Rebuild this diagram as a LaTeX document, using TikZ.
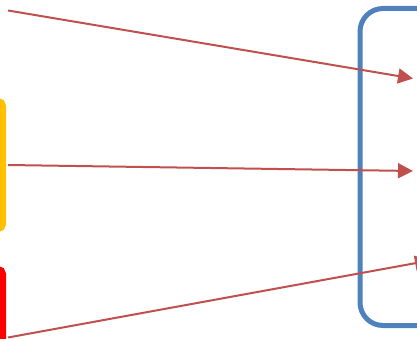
\documentclass[tikz,border=0pt]{standalone}
\usetikzlibrary{arrows.meta}
\definecolor{frameblue}{HTML}{4F81BD}
\definecolor{arrowred}{HTML}{C0504D}
\definecolor{boxyellow}{HTML}{FFC000}
\definecolor{boxred}{HTML}{FF0000}
\tikzset{
  framebox/.style={draw=frameblue, line width=5pt, rounded corners=23pt},
  sidebox/.style={line width=6pt, rounded corners=5pt},
  link/.style={draw=arrowred, line width=2pt, -{Triangle[length=15pt,width=15pt]}}
}
\begin{document}
\begin{tikzpicture}[x=1pt,y=-1pt]
\useasboundingbox (0,0) rectangle (417,339);
\clip (0,0) rectangle (417,339);
% blue frame (right side, partly outside)
\draw[framebox] (500,8.5) -- (360,8.5) -- (360,325.5) -- (500,325.5);
% yellow and red boxes on the left edge (partly outside)
\draw[sidebox, draw=boxyellow] (-60,101) -- (3,101) -- (3,229) -- (-60,229);
\draw[sidebox, draw=boxred] (-60,269) -- (3,269) -- (3,420);
% connector endpoints
\coordinate (s1) at (8,10.5);
\coordinate (t1) at (413,78.5);
\coordinate (s2) at (8,165);
\coordinate (t2) at (413,171);
\coordinate (s3) at (8,337.5);
\coordinate (t3) at (430,260.5);
\draw[link] (s1) -- (t1);
\draw[link] (s2) -- (t2);
\draw[link] (s3) -- (t3);
\end{tikzpicture}
\end{document}
